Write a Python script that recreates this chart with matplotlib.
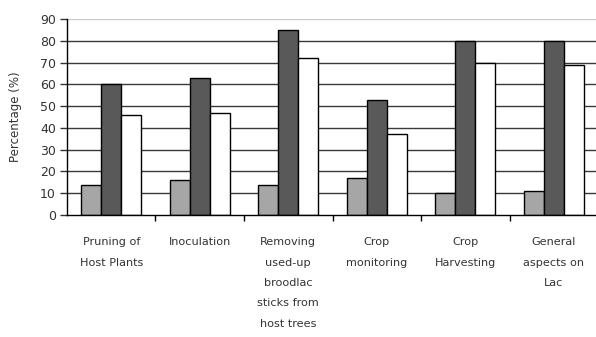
import matplotlib
matplotlib.use("Agg")
import matplotlib.pyplot as plt
import numpy as np

categories = [
    "Pruning of\nHost Plants",
    "Inoculation",
    "Removing\nused-up\nbroodlac\nsticks from\nhost trees",
    "Crop\nmonitoring",
    "Crop\nHarvesting",
    "General\naspects on\nLac",
]
series_a = [14, 16, 14, 17, 10, 11]
series_b = [60, 63, 85, 53, 80, 80]
series_c = [46, 47, 72, 37, 70, 69]
y_ticks = list(range(0, 100, 10))

fig = plt.figure(figsize=(5.96, 3.37), dpi=100)
ax = fig.add_axes([0.1124, 0.362, 0.891, 0.5816])

x = np.arange(len(categories))
w = 0.226
bar_kw = dict(width=w, edgecolor="black", linewidth=1.0, zorder=3)
ax.bar(x - w, series_a, color="#a6a6a6", **bar_kw)
ax.bar(x, series_b, color="#595959", **bar_kw)
ax.bar(x + w, series_c, color="white", **bar_kw)

# horizontal gridlines behind the bars; top line is lighter
for v in y_ticks[1:]:
    col = "#c8c8c8" if v == 90 else "#3a3a3a"
    ax.axhline(v, color=col, linewidth=1.0, zorder=1)

ax.set_xlim(-0.5, len(categories) - 0.5)
ax.set_ylim(0, 90)
ax.set_yticks(y_ticks)
ax.tick_params(axis="y", length=5, width=1, labelsize=9, pad=3, colors="#333333")

# ticks between groups, labels under group centres
ax.set_xticks(x[:-1] + 0.5)
ax.set_xticklabels([])
ax.tick_params(axis="x", which="major", length=4, width=1, direction="out")
ax.set_xticks(x, minor=True)
ax.set_xticklabels(categories, minor=True, fontsize=8.1, linespacing=2.29,
                   color="#333333")
ax.tick_params(axis="x", which="minor", length=0, pad=16)

for s in ["top", "right"]:
    ax.spines[s].set_visible(False)
for s in ["left", "bottom"]:
    ax.spines[s].set_linewidth(1.0)
    ax.spines[s].set_zorder(4)

ax.set_ylabel("Percentage (%)", fontsize=8.5, color="#333333", labelpad=13)

fig.savefig("out.png", dpi=100)
